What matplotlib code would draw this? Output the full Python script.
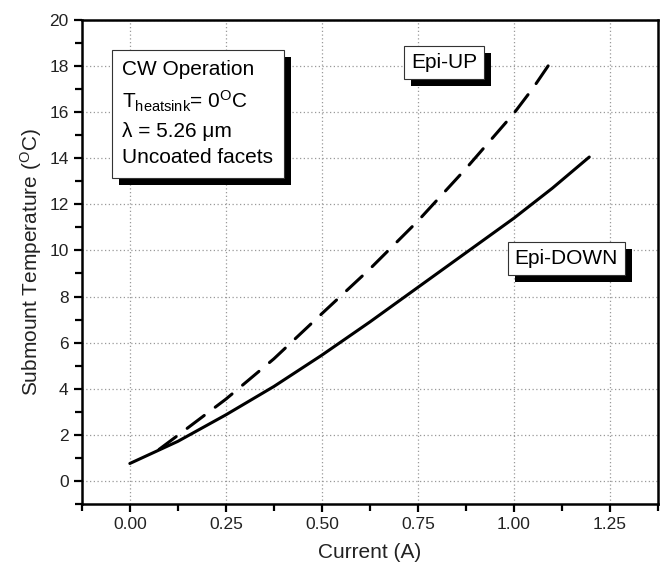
import matplotlib
matplotlib.use('Agg')
import matplotlib.pyplot as plt
import matplotlib.patheffects as pe
from matplotlib.ticker import MultipleLocator

plt.rcParams['font.family'] = ['Liberation Sans', 'DejaVu Sans']
plt.rcParams['mathtext.fontset'] = 'custom'
plt.rcParams['mathtext.rm'] = 'Liberation Sans'
plt.rcParams['mathtext.it'] = 'Liberation Sans:italic'

# Epi-DOWN (solid)
down_current = [0.0, 0.125, 0.25, 0.375, 0.5, 0.625, 0.75, 0.875, 1.0, 1.1, 1.196]
down_temp = [0.76, 1.72, 2.87, 4.1, 5.46, 6.9, 8.4, 9.9, 11.4, 12.7, 14.05]

# Epi-UP (dashed)
up_current = [0.076, 0.125, 0.25, 0.375, 0.5, 0.625, 0.75, 0.875, 1.0, 1.05, 1.09]
up_temp = [1.37, 1.98, 3.55, 5.3, 7.26, 9.2, 11.28, 13.55, 15.95, 17.05, 18.03]

fig = plt.figure(figsize=(6.6, 5.67), dpi=100)
ax = fig.add_axes([0.124, 0.111, 0.873, 0.854])

ax.plot(down_current, down_temp, color='black', lw=2.2, solid_capstyle='round')
ax.plot(up_current, up_temp, color='black', lw=2.2, dashes=(7, 4.5), dash_capstyle='round')

ax.set_xlim(-0.125, 1.375)
ax.set_ylim(-1, 20)
ax.xaxis.set_minor_locator(MultipleLocator(0.125))
ax.yaxis.set_minor_locator(MultipleLocator(1))
ax.set_xticks([0, 0.25, 0.5, 0.75, 1.0, 1.25])
ax.set_xticklabels(['0.00', '0.25', '0.50', '0.75', '1.00', '1.25'])
ax.set_yticks(range(0, 21, 2))

ax.grid(True, which='major', color='#999999', linestyle=(0, (1, 2)), lw=0.9)
ax.tick_params(which='major', length=6, width=1.6, labelsize=12.5, labelcolor='#222222', direction='out')
ax.tick_params(which='minor', length=5, width=1.6, direction='out')
for s in ax.spines.values():
    s.set_linewidth(1.8)

ax.set_xlabel('Current (A)', fontsize=15, color='#222222', labelpad=8)
ax.set_ylabel(r'Submount Temperature ($^{\rm O}$C)', fontsize=15, color='#222222', labelpad=4)

shadow = [pe.SimplePatchShadow(offset=(5, -5), shadow_rgbFace='black', alpha=1.0), pe.Normal()]

info = 'CW Operation\nT$_{\\rm heatsink}$= 0$^{\\rm O}$C\n\u03bb = 5.26 \u03bcm\nUncoated facets'
t1 = ax.text(-0.02, 18.25, info, fontsize=15, va='top', ha='left', linespacing=1.5,
             bbox=dict(boxstyle='square,pad=0.5', fc='white', ec='#333333', lw=0.8))
t1.get_bbox_patch().set_path_effects(shadow)

t2 = ax.text(0.818, 18.14, 'Epi-UP', fontsize=15, va='center', ha='center',
             bbox=dict(boxstyle='square,pad=0.33', fc='white', ec='#333333', lw=0.8))
t2.get_bbox_patch().set_path_effects(shadow)

t3 = ax.text(1.136, 9.64, 'Epi-DOWN', fontsize=15, va='center', ha='center',
             bbox=dict(boxstyle='square,pad=0.33', fc='white', ec='#333333', lw=0.8))
t3.get_bbox_patch().set_path_effects(shadow)

fig.savefig('out.png', dpi=100)
